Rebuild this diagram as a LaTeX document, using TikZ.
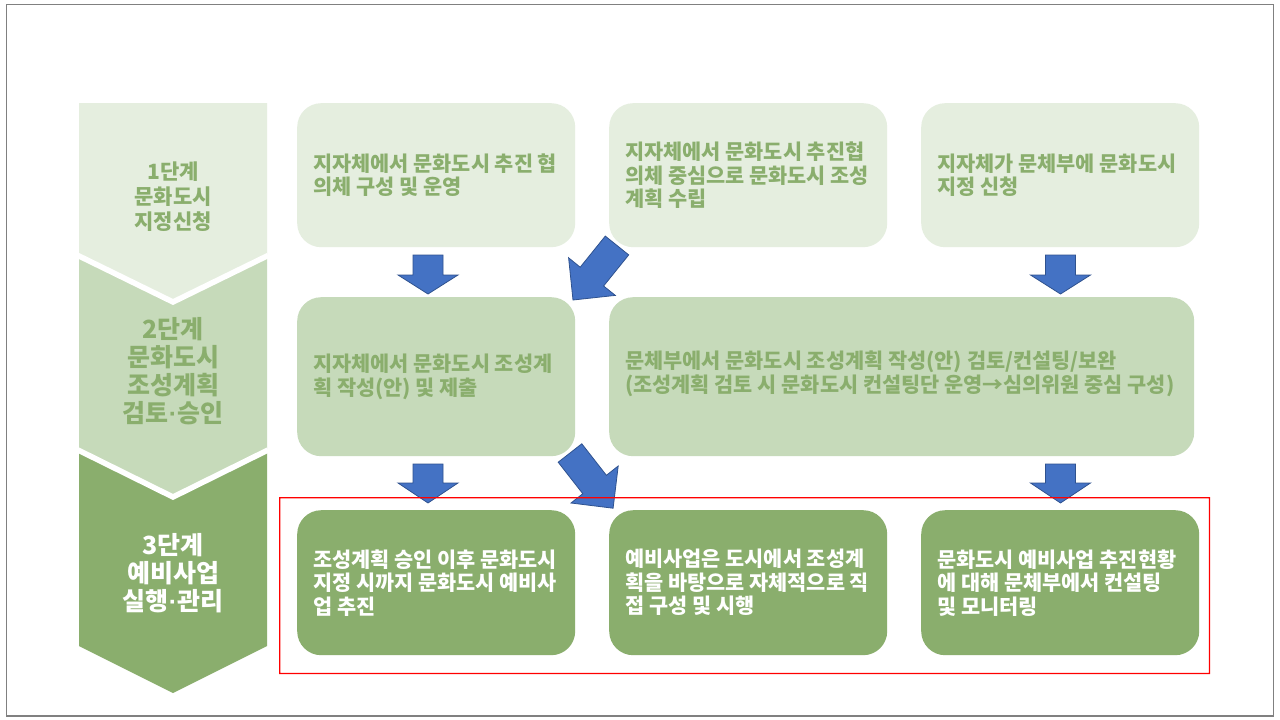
\documentclass[tikz,border=0pt]{standalone}
\usepackage{fontspec}
\setmainfont{Noto Sans CJK KR}
\newfontfamily\latinf{Liberation Sans}
\definecolor{lite}{HTML}{E5EEDF}
\definecolor{midg}{HTML}{C6DABA}
\definecolor{darkg}{HTML}{8AAE6D}
\definecolor{txtg}{HTML}{8AAE6D}
\definecolor{arrblue}{HTML}{4472C4}
\definecolor{arredge}{HTML}{2F528F}
\definecolor{redframe}{RGB}{255,0,0}
\definecolor{slideborder}{HTML}{808080}
\newcommand{\mdot}{{\latinf\bfseries\char"00B7}}
\begin{document}
\begin{tikzpicture}[x=1pt,y=-1pt,
  box/.style={rounded corners=24pt, minimum width=278pt, inner sep=0pt, anchor=north west},
  btxt/.style={anchor=west, align=left, inner sep=0pt, font=\fontsize{20.8}{23.5}\selectfont\bfseries},
  stlab/.style={align=center, inner sep=0pt, font=\fontsize{25}{28}\selectfont\bfseries},
  barrow/.style={fill=arrblue, draw=arredge, line width=0.8pt, line join=miter},
  sep/.style={white, line width=5.5pt}]
\useasboundingbox (0,0) rectangle (1280,720);
\fill[white] (0,0) rectangle (1280,720);
\draw[draw=slideborder, line width=1.2pt] (6.5,4.5) rectangle (1273.5,716);

% left chevron column
\fill[lite] (79,103) -- (267,103) -- (267,255.5) -- (173,302) -- (79,255.5) -- cycle;
\fill[midg] (79,255.5) -- (173,302) -- (267,255.5) -- (267,450) -- (173,497) -- (79,450) -- cycle;
\fill[darkg] (79,450) -- (173,497) -- (267,450) -- (267,646) -- (173,693) -- (79,646) -- cycle;
\draw[sep] (78,255.5) -- (173,302) -- (268,255.5);
\draw[sep] (78,450) -- (173,497) -- (268,450);

\node[stlab, text=txtg, font=\fontsize{21}{25}\selectfont\bfseries] (s1) at (173,197) {1단계\\문화도시\\지정신청};
\node[stlab, text=txtg] (s2) at (173,371) {2단계\\문화도시\\조성계획\\검토\mdot 승인};
\node[stlab, text=white] (s3) at (173,573) {3단계\\예비사업\\실행\mdot 관리};

% row 1
\node[box, fill=lite, minimum height=144pt] (A) at (297,103) {};
\node[box, fill=lite, minimum height=144pt] (B) at (609,103) {};
\node[box, fill=lite, minimum height=144pt] (C) at (921,103) {};
% row 2
\node[box, fill=midg, minimum height=159pt] (D) at (297,297) {};
\node[box, fill=midg, minimum height=159pt, minimum width=585pt] (E) at (609,297) {};
% row 3
\node[box, fill=darkg, minimum height=145pt] (F) at (297,510) {};
\node[box, fill=darkg, minimum height=145pt] (G) at (609,510) {};
\node[box, fill=darkg, minimum height=145pt] (H) at (921,510) {};

\node[btxt, text=txtg] (At) at ([xshift=16pt]A.west) {지자체에서 문화도시 추진 협\\의체 구성 및 운영};
\node[btxt, text=txtg] (Bt) at ([xshift=16pt]B.west) {지자체에서 문화도시 추진협\\의체 중심으로 문화도시 조성\\계획 수립};
\node[btxt, text=txtg] (Ct) at ([xshift=16pt]C.west) {지자체가 문체부에 문화도시\\지정 신청};
\node[btxt, text=txtg] (Dt) at ([xshift=16pt]D.west) {지자체에서 문화도시 조성계\\획 작성(안) 및 제출};
\node[btxt, text=txtg] (Et) at ([xshift=16pt,yshift=3pt]E.west) {문체부에서 문화도시 조성계획 작성(안) 검토/컨설팅/보완\\(조성계획 검토 시 문화도시 컨설팅단 운영→심의위원 중심 구성)};
\node[btxt, text=white] (Ft) at ([xshift=16pt]F.west) {조성계획 승인 이후 문화도시\\지정 시까지 문화도시 예비사\\업 추진};
\node[btxt, text=white] (Gt) at ([xshift=16pt]G.west) {예비사업은 도시에서 조성계\\획을 바탕으로 자체적으로 직\\접 구성 및 시행};
\node[btxt, text=white] (Ht) at ([xshift=16pt]H.west) {문화도시 예비사업 추진현황\\에 대해 문체부에서 컨설팅\\및 모니터링};

% block arrows
\draw[barrow] (413,255) -- (443,255) -- (443,275) -- (458,275) -- (428,294) -- (398,275) -- (413,275) -- cycle;
\draw[barrow] (413,464) -- (443,464) -- (443,483) -- (458,483) -- (428,503) -- (398,483) -- (413,483) -- cycle;
\draw[barrow] (1045.5,255) -- (1075.5,255) -- (1075.5,275) -- (1090.5,275) -- (1060.5,294) -- (1030.5,275) -- (1045.5,275) -- cycle;
\draw[barrow] (1045.5,464) -- (1075.5,464) -- (1075.5,483) -- (1090.5,483) -- (1060.5,503) -- (1030.5,483) -- (1045.5,483) -- cycle;
\draw[barrow] (605.3,236.1) -- (628.7,254.9) -- (603.6,286.0) -- (615.3,295.4) -- (573,300) -- (568.6,257.8) -- (580.2,267.2) -- cycle;
\draw[barrow] (558.2,462.2) -- (581.8,443.8) -- (606.4,475.3) -- (618.2,466.0) -- (613.1,508.2) -- (571.0,503.0) -- (582.8,493.7) -- cycle;

% red frame
\fill[fill=redframe, even odd rule] (279,497) rectangle (1210.2,674.2) (280.4,498.4) rectangle (1208.8,672.8);
\end{tikzpicture}
\end{document}
